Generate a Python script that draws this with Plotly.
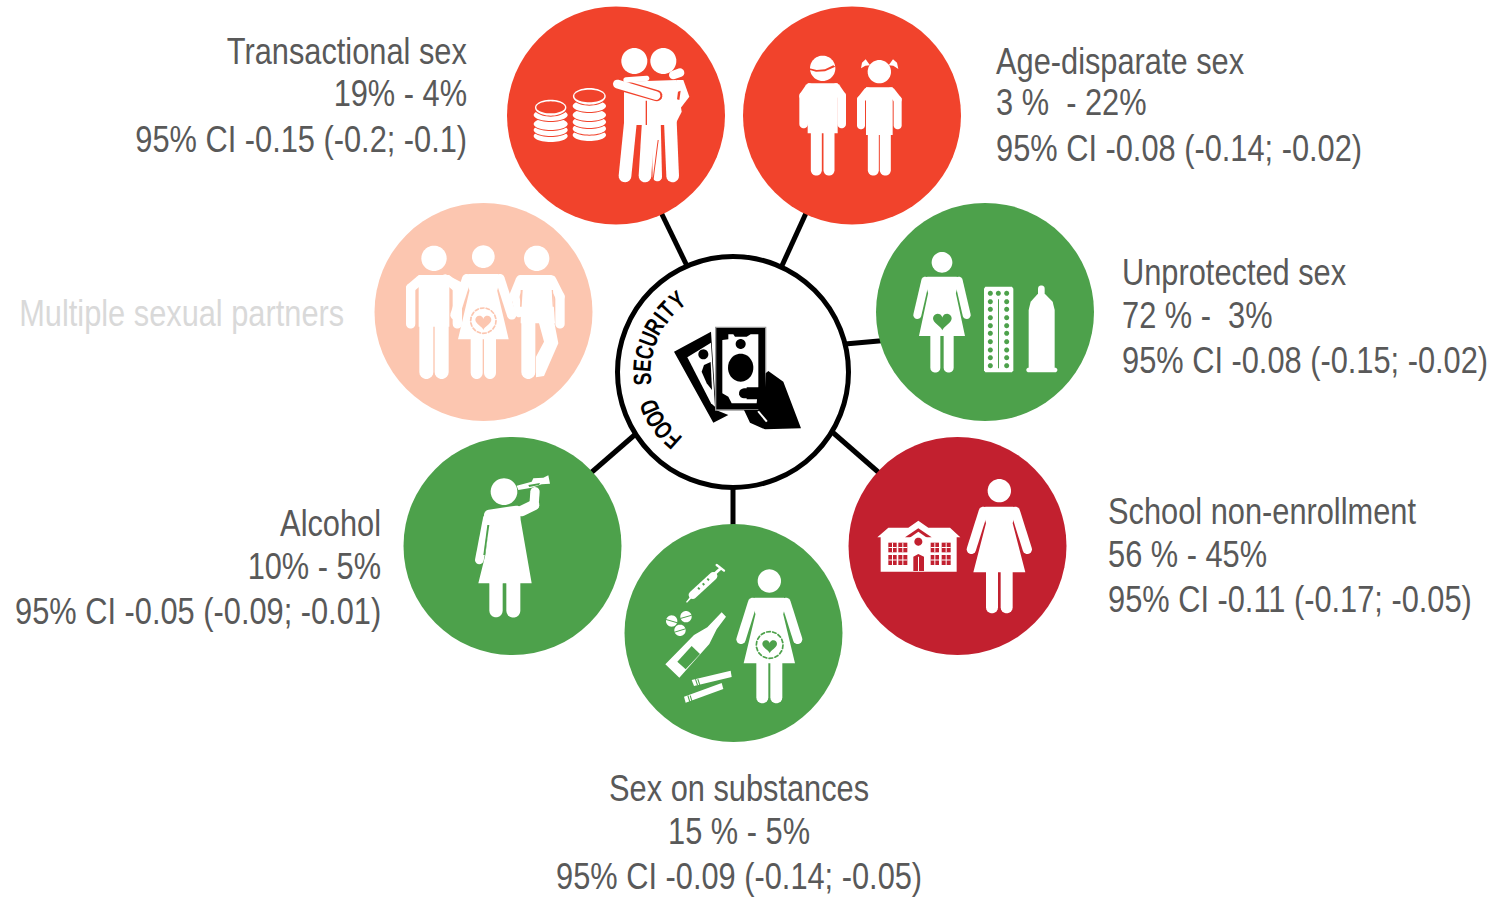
import math
import numpy as np
import plotly.graph_objects as go

# ---- content ----
names = ["Transactional sex", "Age-disparate sex", "Unprotected sex", "School non-enrollment",
         "Sex on substances", "Alcohol", "Multiple sexual partners"]
prevalence = ["19% - 4%", "3 %\u00a0 - 22%", "72 % -\u00a0 3%", "56 % - 45%", "15 % - 5%", "10% - 5%", ""]
intervals = ["95% CI -0.15 (-0.2; -0.1)", "95% CI -0.08 (-0.14; -0.02)", "95% CI -0.08 (-0.15; -0.02)",
             "95% CI -0.11 (-0.17; -0.05)", "95% CI -0.09 (-0.14; -0.05)", "95% CI -0.05 (-0.09; -0.01)", ""]
hub_label = "FOOD SECURITY"

# ---- colours ----
RED, PEACH, GREEN, DARK = "#F1432C", "#FCC6B0", "#4DA14B", "#C2202F"
WHITE, INK, GREY, PALE = "#FFFFFF", "#000000", "#595959", "#D9D9D9"
node_colors = [RED, RED, GREEN, DARK, GREEN, GREEN, PEACH]

# ---- layout ----
W, H = 1496, 897
node_x = [616, 852, 985, 957.5, 733.5, 512.5, 483.5]
node_y = [115.5, 115.5, 312, 546, 633, 546, 312]
spoke_x = [(655, 688), (812, 780), (890, 845), (885, 830), (733, 733), (585, 638)]
spoke_y = [(200, 268), (200, 270), (340, 344), (478, 430), (530, 485), (478, 432)]
hub_xy = (733, 372)
NODE_D, HUB_D = 218, 231

text_anchor = ["right", "left", "left", "left", "center", "right", "right"]
text_x = [469, 994, 1120, 1106, 739, 383, 346]
text_y = [(51, 93, 139), (61, 102, 148), (272, 315, 360), (511, 554, 599),
          (788, 831, 876), (523, 566, 611), (313, 0, 0)]
TEXT_FONT = "Liberation Sans, Arial, sans-serif"
TEXT_SIZE = 36
TEXT_SQUEEZE = 0.855
HUB_SQUEEZE = 0.74
hub_pitch = {"I": 0.55, " ": 1.1}

shapes = []
annotations = []
ox, oy = 0.0, 0.0


def at(x, y):
    global ox, oy
    ox, oy = x, y


def poly(pts, color=WHITE):
    d = "M" + " L".join(f"{ox + p[0] / 3:.2f},{oy + p[1] / 3:.2f}" for p in pts) + " Z"
    shapes.append(dict(type="path", path=d, fillcolor=color, line_width=0, layer="above"))


def ell(x, y, rx, ry, color=WHITE, n=48):
    t = np.linspace(0, 2 * np.pi, n, endpoint=False)
    poly(list(zip(x + rx * np.cos(t), y + ry * np.sin(t))), color)


def disc(x, y, r, color=WHITE):
    ell(x, y, r, r, color)


def caps(x0, y0, x1, y1, w, color=WHITE):
    a = math.atan2(y1 - y0, x1 - x0)
    r = w / 2
    pts = []
    for t in np.linspace(a + np.pi / 2, a + 3 * np.pi / 2, 10):
        pts.append((x0 + r * math.cos(t), y0 + r * math.sin(t)))
    for t in np.linspace(a - np.pi / 2, a + np.pi / 2, 10):
        pts.append((x1 + r * math.cos(t), y1 + r * math.sin(t)))
    poly(pts, color)


def heart(cx, cy, r, color):
    t = np.linspace(0, 2 * np.pi, 40, endpoint=False)
    x = 16 * np.sin(t) ** 3
    y = -(13 * np.cos(t) - 5 * np.cos(2 * t) - 2 * np.cos(3 * t) - np.cos(4 * t))
    poly(list(zip(cx + x * r / 16, cy + y * r / 16)), color)


def dashed_ring(cx, cy, r, color, n=14, w=5):
    for i in range(n):
        a0 = 2 * np.pi * i / n
        a1 = a0 + 2 * np.pi / n * 0.6
        caps(cx + r * math.cos(a0), cy + r * math.sin(a0), cx + r * math.cos(a1), cy + r * math.sin(a1), w, color)


def woman(cx, hy, r, top, sh, armx, army, hem, hemy, legx, legw, foot, armw=28, col=WHITE):
    disc(cx, hy, r, col)
    poly([(cx - sh + 8, top), (cx + sh - 8, top), (cx + sh, top + 10), (cx + sh * .8, top + 50), (cx + hem, hemy),
          (cx - hem, hemy), (cx - sh * .8, top + 50), (cx - sh, top + 10)], col)
    for sgn in (-1, 1):
        caps(cx + sgn * (sh - 2), top + armw / 2, cx + sgn * armx, army, armw, col)
        caps(cx + sgn * legx, hemy - 5, cx + sgn * legx, foot - legw / 2, legw, col)


def man(cx, hy, r, top, torso, armx, armw, armend, legx, legw, crotch, foot, col=WHITE):
    disc(cx, hy, r, col)
    poly([(cx - torso, top), (cx + torso, top), (cx + torso, crotch + 15), (cx - torso, crotch + 15)], col)
    for sgn in (-1, 1):
        caps(cx + sgn * (torso - 5), top + armw / 2, cx + sgn * armx, top + armw / 2 + 25, armw, col)
        caps(cx + sgn * armx, top + armw / 2 + 25, cx + sgn * armx, armend, armw, col)
        caps(cx + sgn * legx, crotch, cx + sgn * legx, foot - legw / 2, legw, col)


def coin_stack(cx, rx, ys, top_y, top_rx, top_ry, bg):
    for y in ys:
        ell(cx, y, rx + 3, 21, bg)
        ell(cx, y, rx, 18, WHITE)
    ell(cx, top_y, top_rx + 3, top_ry + 3, bg)
    ell(cx, top_y, top_rx, top_ry, WHITE)
    ell(cx, top_y - 1, top_rx - 4, top_ry - 6, bg)


# ---- Transactional sex ----
at(500, 0)
coin_stack(152, 51, [408, 390, 372, 345], 323, 47, 24, RED)
coin_stack(268, 50, [405, 386, 366, 345, 318], 289, 49, 25, RED)
disc(403, 183, 39)
disc(490, 183, 39)
poly([(372, 245), (530, 240), (545, 335), (525, 375), (372, 375)])
caps(395, 330, 375, 528, 38)
caps(447, 330, 435, 528, 38)
caps(468, 360, 472, 530, 28)
caps(510, 340, 518, 528, 38)
caps(520, 225, 540, 218, 26)
poly([(530, 240), (550, 240), (568, 290), (530, 340), (520, 300)])
poly([(534, 275), (542, 272), (538, 300), (531, 298)], RED)
caps(350, 252, 470, 287, 34, RED)
caps(352, 252, 468, 287, 26)
caps(378, 240, 440, 235, 16)
poly([(437, 302), (441, 302), (441, 375), (437, 375)], RED)
poly([(412, 375), (415, 375), (413, 400), (410, 400)], RED)
poly([(473, 420), (476, 420), (460, 545), (457, 545)], RED)

# ---- Age-disparate sex ----
man(968, 205, 38, 250, 45, 57, 26, 372, 19, 33, 385, 527)
poly([(928, 205), (950, 210), (975, 208), (1000, 196), (1006, 200), (975, 214), (948, 215), (930, 210)], RED)
disc(1138, 215, 35)
poly([(1110, 196), (1097, 178), (1086, 188), (1083, 205), (1096, 197)])
poly([(1166, 196), (1179, 178), (1191, 188), (1195, 207), (1180, 197)])
man(1138, 215, 0.1, 262, 40, 55, 24, 376, 18, 33, 390, 527)

# ---- Multiple sexual partners ----
at(370, 200)
man(192, 175, 38, 225, 46, 70, 28, 372, 23, 42, 365, 537, WHITE)
caps(225, 235, 270, 258, 24)
woman(340, 170, 34, 222, 52, 85, 345, 76, 418, 20, 36, 537)
heart(340, 365, 24, PEACH)
dashed_ring(340, 362, 38, PEACH, 14, 5)
disc(500, 175, 38)
poly([(455, 225), (545, 225), (555, 370), (452, 370)])
caps(545, 240, 570, 290, 28)
caps(570, 290, 570, 372, 28)
caps(452, 240, 432, 290, 30)
caps(435, 285, 447, 340, 24)
caps(475, 360, 475, 516, 42)
poly([(505, 362), (552, 362), (565, 430), (522, 528), (498, 532), (498, 470), (522, 425)])
poly([(452, 270), (458, 270), (455, 320), (450, 320)], PEACH)
poly([(545, 270), (549, 270), (552, 320), (548, 320)], PEACH)

# ---- Unprotected sex ----
at(870, 200)
woman(216, 187, 31, 230, 52, 74, 345, 69, 408, 20, 30, 518, armw=24)
heart(217, 362, 28, GREEN)
poly([(342, 266), (346, 260), (426, 260), (430, 266), (430, 511), (426, 517), (346, 517), (342, 511)])
for yy in [280, 305, 328, 353, 377, 400, 425, 450, 473, 497]:
    disc(361, yy, 7.5, GREEN)
    disc(410, yy, 7.5, GREEN)
disc(385, 280, 7.5, GREEN)
poly([(384, 298), (387, 298), (387, 505), (384, 505)], GREEN)
caps(514, 266, 514, 295, 20)
poly([(476, 330), (482, 305), (503, 282), (525, 282), (548, 305), (554, 330), (554, 505), (476, 505)])
caps(476, 510, 555, 510, 14)

# ---- School non-enrollment ----
at(845, 435)
woman(463, 167, 35, 215, 50, 84, 343, 78, 412, 22, 36, 535)
poly([(97, 307), (130, 278), (190, 278), (220, 257), (250, 278), (315, 278), (346, 307)])
poly([(107, 305), (335, 305), (335, 410), (107, 410)])
poly([(180, 307), (220, 280), (260, 307)], DARK)
poly([(192, 310), (220, 290), (248, 310), (248, 345), (192, 345)], WHITE)
disc(220, 320, 12, DARK)
poly([(205, 365), (220, 357), (237, 365), (237, 408), (205, 408)], DARK)
poly([(219, 365), (222, 365), (222, 408), (219, 408)], WHITE)
for x0, x1 in [(130, 155), (160, 187), (257, 282), (290, 317)]:
    for y0, y1 in [(323, 352), (360, 390)]:
        poly([(x0, y0), (x1, y0), (x1, y1), (x0, y1)], DARK)
        mx, my = (x0 + x1) / 2, (y0 + y1) / 2
        poly([(mx - 1.5, y0), (mx + 1.5, y0), (mx + 1.5, y1), (mx - 1.5, y1)], WHITE)
        poly([(x0, my - 1.5), (x1, my - 1.5), (x1, my + 1.5), (x0, my + 1.5)], WHITE)

# ---- Sex on substances ----
at(620, 520)
woman(448, 183, 35, 233, 52, 85, 358, 77, 430, 21, 36, 550)
heart(449, 377, 22, GREEN)
dashed_ring(449, 375, 40, GREEN, 14, 5)
caps(218, 225, 280, 168, 24)
poly([(198, 246), (215, 224), (220, 229), (201, 248)])
caps(280, 165, 300, 147, 9)
caps(290, 135, 312, 152, 7)
poly([(232, 205), (236, 201), (241, 206), (237, 210)], GREEN)
poly([(246, 192), (250, 188), (255, 193), (251, 197)], GREEN)
poly([(260, 178), (264, 174), (269, 179), (265, 183)], GREEN)
for px, py, s in [(155, 303, 1), (198, 290, -1), (180, 331, -1)]:
    disc(px, py, 17)
    poly([(px - 17, py - s * 5 - 1), (px + 17, py + s * 5 - 1), (px + 17, py + s * 5 + 2), (px - 17, py - s * 5 + 2)], GREEN)
poly([(305, 277), (318, 290), (290, 328), (268, 372), (178, 473), (136, 433), (222, 345), (262, 322)])
poly([(215, 378), (240, 402), (197, 448), (172, 425)], GREEN)
poly([(215, 480), (332, 452), (335, 471), (222, 498)])
poly([(192, 530), (305, 489), (310, 507), (197, 548)])
for dx in (10, 17):
    poly([(215 + dx, 478), (218 + dx, 477), (224 + dx, 495), (221 + dx, 496)], GREEN)
    poly([(192 + dx, 527), (195 + dx, 526), (201 + dx, 545), (198 + dx, 546)], GREEN)

# ---- Alcohol ----
at(400, 435)
disc(312, 170, 40)
poly([(350, 152), (395, 140), (400, 130), (430, 128), (445, 121), (450, 146), (425, 148), (395, 158), (355, 165)])
poly([(385, 150), (420, 144), (417, 150), (388, 156)], GREEN)
caps(268, 240, 350, 228, 32)
caps(365, 228, 402, 210, 32)
caps(402, 210, 405, 170, 28)
poly([(270, 225), (360, 225), (362, 255), (395, 445), (235, 445), (256, 360), (268, 270)])
caps(262, 250, 238, 375, 26)
poly([(262, 270), (268, 270), (255, 360), (250, 360)], GREEN)
caps(288, 445, 288, 527, 40)
caps(340, 445, 340, 527, 42)

# ---- Hub ----
at(600, 240)
poly([(222, 335), (333, 275), (348, 510), (385, 525), (340, 548)], INK)
poly([(262, 352), (333, 308), (345, 500), (333, 490)], WHITE)
disc(310, 343, 15, INK)
poly([(332, 366), (336, 450), (320, 430), (305, 395), (312, 375)], INK)
poly([(345, 260), (499, 260), (499, 512), (345, 512)], "#9A9A9A")
poly([(349, 264), (495, 264), (495, 508), (349, 508)], INK)
poly([(385, 283), (400, 283), (405, 290), (440, 290), (452, 283), (475, 283), (475, 440), (470, 490),
      (395, 490), (385, 470), (367, 460), (367, 300), (385, 298)], WHITE)
disc(422, 312, 15, INK)
ell(422, 383, 38, 42, INK)
poly([(505, 393), (550, 425), (603, 565), (495, 568), (450, 548), (432, 510), (475, 510), (475, 478), (440, 478), (440, 442),
      (495, 442), (497, 400)], INK)
caps(432, 460, 490, 460, 30, INK)
poly([(472, 515), (477, 512), (503, 543), (498, 547)], WHITE)

# curved hub label: one rotated real text letter at a time
pitches = [hub_pitch.get(c, 1.0) for c in hub_label]
centres = np.cumsum(pitches) - np.array(pitches) / 2
thetas = -138.6 + (centres - centres[0]) / (centres[-1] - centres[0]) * 100.7
for ch, theta in zip(hub_label, thetas):
    if ch == " ":
        continue
    rad = math.radians(theta)
    annotations.append(dict(x=hub_xy[0] + 91 * math.sin(rad), y=hub_xy[1] - 91 * math.cos(rad),
                            text=ch, showarrow=False, textangle=float(theta), xanchor="center", yanchor="middle",
                            name="hub", font=dict(family=TEXT_FONT, size=25, color=INK, weight=700)))

# ---- labels ----
for name, prev, ci, anchor, x, ys, col in zip(names, prevalence, intervals, text_anchor, text_x, text_y, node_colors):
    color = PALE if col == PEACH else GREY
    for line, y in zip((name, prev, ci), ys):
        if line:
            annotations.append(dict(x=x, y=y, text=line, showarrow=False, xanchor=anchor, yanchor="middle",
                                    font=dict(family=TEXT_FONT, size=TEXT_SIZE, color=color)))

# ---- marks ----
fig = go.Figure()
for xs, ys in zip(spoke_x, spoke_y):
    fig.add_trace(go.Scatter(x=list(xs), y=list(ys), mode="lines",
                             line=dict(color=INK, width=5), hoverinfo="skip", showlegend=False))
fig.add_trace(go.Scatter(x=node_x, y=node_y, mode="markers", text=names, hoverinfo="text", showlegend=False,
                         marker=dict(size=NODE_D, color=node_colors, line_width=0), cliponaxis=False))
fig.add_trace(go.Scatter(x=[hub_xy[0]], y=[hub_xy[1]], mode="markers", hoverinfo="skip", showlegend=False,
                         marker=dict(size=HUB_D, color=WHITE, line=dict(color=INK, width=5)), cliponaxis=False))
fig.update_layout(width=W, height=H, margin=dict(l=0, r=0, t=0, b=0), plot_bgcolor="white", paper_bgcolor="white",
                  xaxis=dict(range=[0, W], visible=False, fixedrange=True),
                  yaxis=dict(range=[H, 0], visible=False, fixedrange=True),
                  shapes=shapes, annotations=annotations, showlegend=False)

squeeze_js = """
document.body.style.margin='0';document.body.style.overflow='hidden';
(function(){
  var gd=document.querySelector('.plotly-graph-div');
  gd.querySelectorAll('.annotation').forEach(function(g){
    var a=gd.layout.annotations[+g.getAttribute('data-index')];
    var t=g.querySelector('.annotation-text');
    if(!a||!t)return;
    var k=(a.name==='hub')?%s:%s;
    var w=t.getComputedTextLength(), x=parseFloat(t.getAttribute('x'))||0, e=x;
    if(a.xanchor==='right')e=x+w/2; else if(a.xanchor==='left')e=x-w/2;
    t.setAttribute('transform','translate('+e+',0) scale('+k+',1) translate('+(-e)+',0)');
  });
})();
""" % (HUB_SQUEEZE, TEXT_SQUEEZE)
fig.write_html("out.html", config=dict(displayModeBar=False), post_script=squeeze_js)
